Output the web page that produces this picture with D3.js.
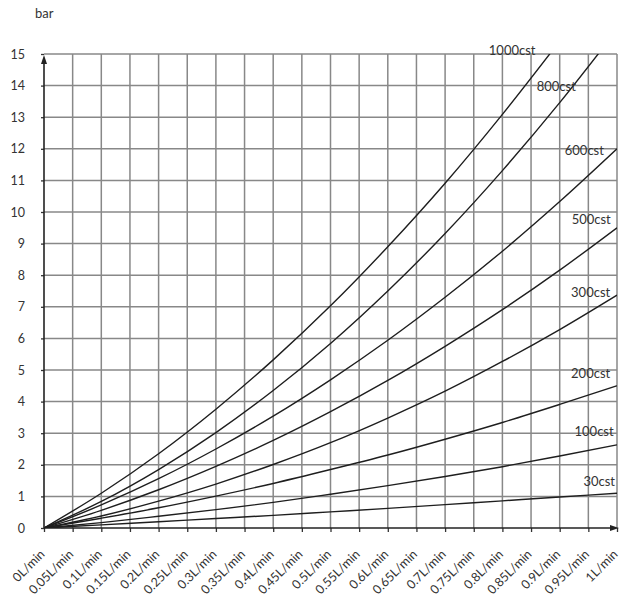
<!DOCTYPE html>
<html>
<head>
<meta charset="utf-8">
<script src="https://cdn.jsdelivr.net/npm/d3@7/dist/d3.min.js"></script>
<style>
  body { margin: 0; background: #fff; }
  svg { display: block; }
  text { font-family: Lato, "Open Sans", sans-serif; fill: #333; }
</style>
</head>
<body>
<svg id="chart" width="621" height="596"></svg>
<script>
// Flow rate (L/min) at which each pressure reading was taken
const flowRates = [0, 0.1, 0.2, 0.3, 0.4, 0.5, 0.6, 0.7, 0.8, 0.9, 1.0];

// Pressure drop (bar) per oil viscosity
const p1000cst = [0, 1.10, 2.35, 3.76, 5.32, 7.03, 8.90, 10.91, 13.09, 15.41, null];
const p800cst  = [0, 0.84, 1.85, 3.02, 4.35, 5.84, 7.50, 9.32, 11.31, 13.46, 15.77];
const p600cst  = [0, 0.73, 1.56, 2.50, 3.54, 4.69, 5.94, 7.30, 8.76, 10.33, 12.0];
const p500cst  = [0, 0.56, 1.21, 1.95, 2.77, 3.68, 4.67, 5.75, 6.91, 8.16, 9.5];
const p300cst  = [0, 0.38, 0.85, 1.39, 2.01, 2.70, 3.48, 4.33, 5.27, 6.28, 7.37];
const p200cst  = [0, 0.31, 0.64, 1.01, 1.41, 1.85, 2.31, 2.81, 3.34, 3.91, 4.5];
const p100cst  = [0, 0.17, 0.37, 0.58, 0.81, 1.07, 1.34, 1.63, 1.94, 2.28, 2.63];
const p30cst   = [0, 0.10, 0.20, 0.30, 0.40, 0.51, 0.62, 0.74, 0.86, 0.98, 1.10];

const viscosityNames = ["1000cst", "800cst", "600cst", "500cst", "300cst", "200cst", "100cst", "30cst"];
const pressureSeries = [p1000cst, p800cst, p600cst, p500cst, p300cst, p200cst, p100cst, p30cst];

// Where each curve's name is written, in chart units (flow, bar)
const nameSpots = [
  [0.817, 14.97], [0.894, 13.83], [0.943, 11.80], [0.955, 9.62],
  [0.954, 7.31], [0.954, 4.75], [0.960, 2.91], [0.969, 1.33]
];

const xTickValues = [0, 0.05, 0.1, 0.15, 0.2, 0.25, 0.3, 0.35, 0.4, 0.45, 0.5,
                     0.55, 0.6, 0.65, 0.7, 0.75, 0.8, 0.85, 0.9, 0.95, 1.0];
const xTickLabels = ["0L/min", "0.05L/min", "0.1L/min", "0.15L/min", "0.2L/min", "0.25L/min",
                     "0.3L/min", "0.35L/min", "0.4L/min", "0.45L/min", "0.5L/min", "0.55L/min",
                     "0.6L/min", "0.65L/min", "0.7L/min", "0.75L/min", "0.8L/min", "0.85L/min",
                     "0.9L/min", "0.95L/min", "1L/min"];
const yTickValues = [0, 1, 2, 3, 4, 5, 6, 7, 8, 9, 10, 11, 12, 13, 14, 15];
const yUnit = "bar";

const svg = d3.select("#chart");
const x = d3.scaleLinear().domain([0, 1]).range([44, 617]);
const y = d3.scaleLinear().domain([0, 15]).range([528, 54]);

// Grid
const grid = svg.append("g").attr("stroke", "#888").attr("stroke-width", 1.5);
grid.selectAll("line.v").data(xTickValues.slice(1)).join("line")
  .attr("x1", d => x(d)).attr("x2", d => x(d))
  .attr("y1", y(0)).attr("y2", y(15));
grid.selectAll("line.h").data(yTickValues.slice(1)).join("line")
  .attr("x1", x(0)).attr("x2", x(1))
  .attr("y1", d => y(d)).attr("y2", d => y(d));

// Axes
const yAxis = d3.axisLeft(y).tickValues(yTickValues).tickSize(3).tickPadding(16);
const gy = svg.append("g").attr("transform", `translate(${x(0)},0)`).call(yAxis);
gy.select(".domain").remove();
gy.selectAll(".tick line").attr("stroke", "#333").attr("stroke-width", 1.3);
gy.selectAll(".tick text").attr("font-size", 12.5).attr("fill", "#333")
  .style("font-family", "Lato, sans-serif");

const xAxis = d3.axisBottom(x).tickValues(xTickValues).tickSize(4)
  .tickFormat((d, i) => xTickLabels[i]);
const gx = svg.append("g").attr("transform", `translate(0,${y(0)})`).call(xAxis);
gx.select(".domain").remove();
gx.selectAll(".tick line").attr("stroke", "#333").attr("stroke-width", 1.3);
gx.selectAll(".tick text")
  .attr("font-size", 12.5).attr("fill", "#333")
  .style("font-family", "Lato, sans-serif")
  .attr("text-anchor", "end")
  .attr("x", 0).attr("y", 0).attr("dy", 0)
  .attr("transform", "translate(1,27) rotate(-45)");

// Axis lines with arrowheads
const axisG = svg.append("g").attr("stroke", "#222").attr("stroke-width", 1.6);
axisG.append("line").attr("x1", x(0)).attr("x2", x(0)).attr("y1", y(0)).attr("y2", y(15) + 4);
axisG.append("line").attr("x1", x(0)).attr("x2", x(1) - 4).attr("y1", y(0)).attr("y2", y(0));
svg.append("path")
  .attr("d", `M${x(0)},${y(15) + 1} l-3,9 l6,0 z`).attr("fill", "#222");
svg.append("path")
  .attr("d", `M${x(1) + 2},${y(0)} l-9,-3 l0,6 z`).attr("fill", "#222");

// Unit label
svg.append("text").attr("x", 35).attr("y", 18).attr("font-size", 13).text(yUnit);

// Curves
svg.append("clipPath").attr("id", "plotClip").append("rect")
  .attr("x", x(0)).attr("y", y(15)).attr("width", x(1) - x(0)).attr("height", y(0) - y(15));

const line = d3.line()
  .defined(d => d[1] !== null)
  .x(d => x(d[0])).y(d => y(d[1]))
  .curve(d3.curveMonotoneX);

svg.append("g").attr("clip-path", "url(#plotClip)")
  .selectAll("path").data(pressureSeries).join("path")
  .attr("fill", "none").attr("stroke", "#1e1e1e").attr("stroke-width", 1.4)
  .attr("d", s => line(flowRates.map((f, i) => [f, s[i]])));

// Curve names
svg.append("g").selectAll("text").data(viscosityNames).join("text")
  .attr("x", (d, i) => x(nameSpots[i][0]))
  .attr("y", (d, i) => y(nameSpots[i][1]))
  .attr("text-anchor", "middle").attr("font-size", 13)
  .text(d => d);
</script>
</body>
</html>
